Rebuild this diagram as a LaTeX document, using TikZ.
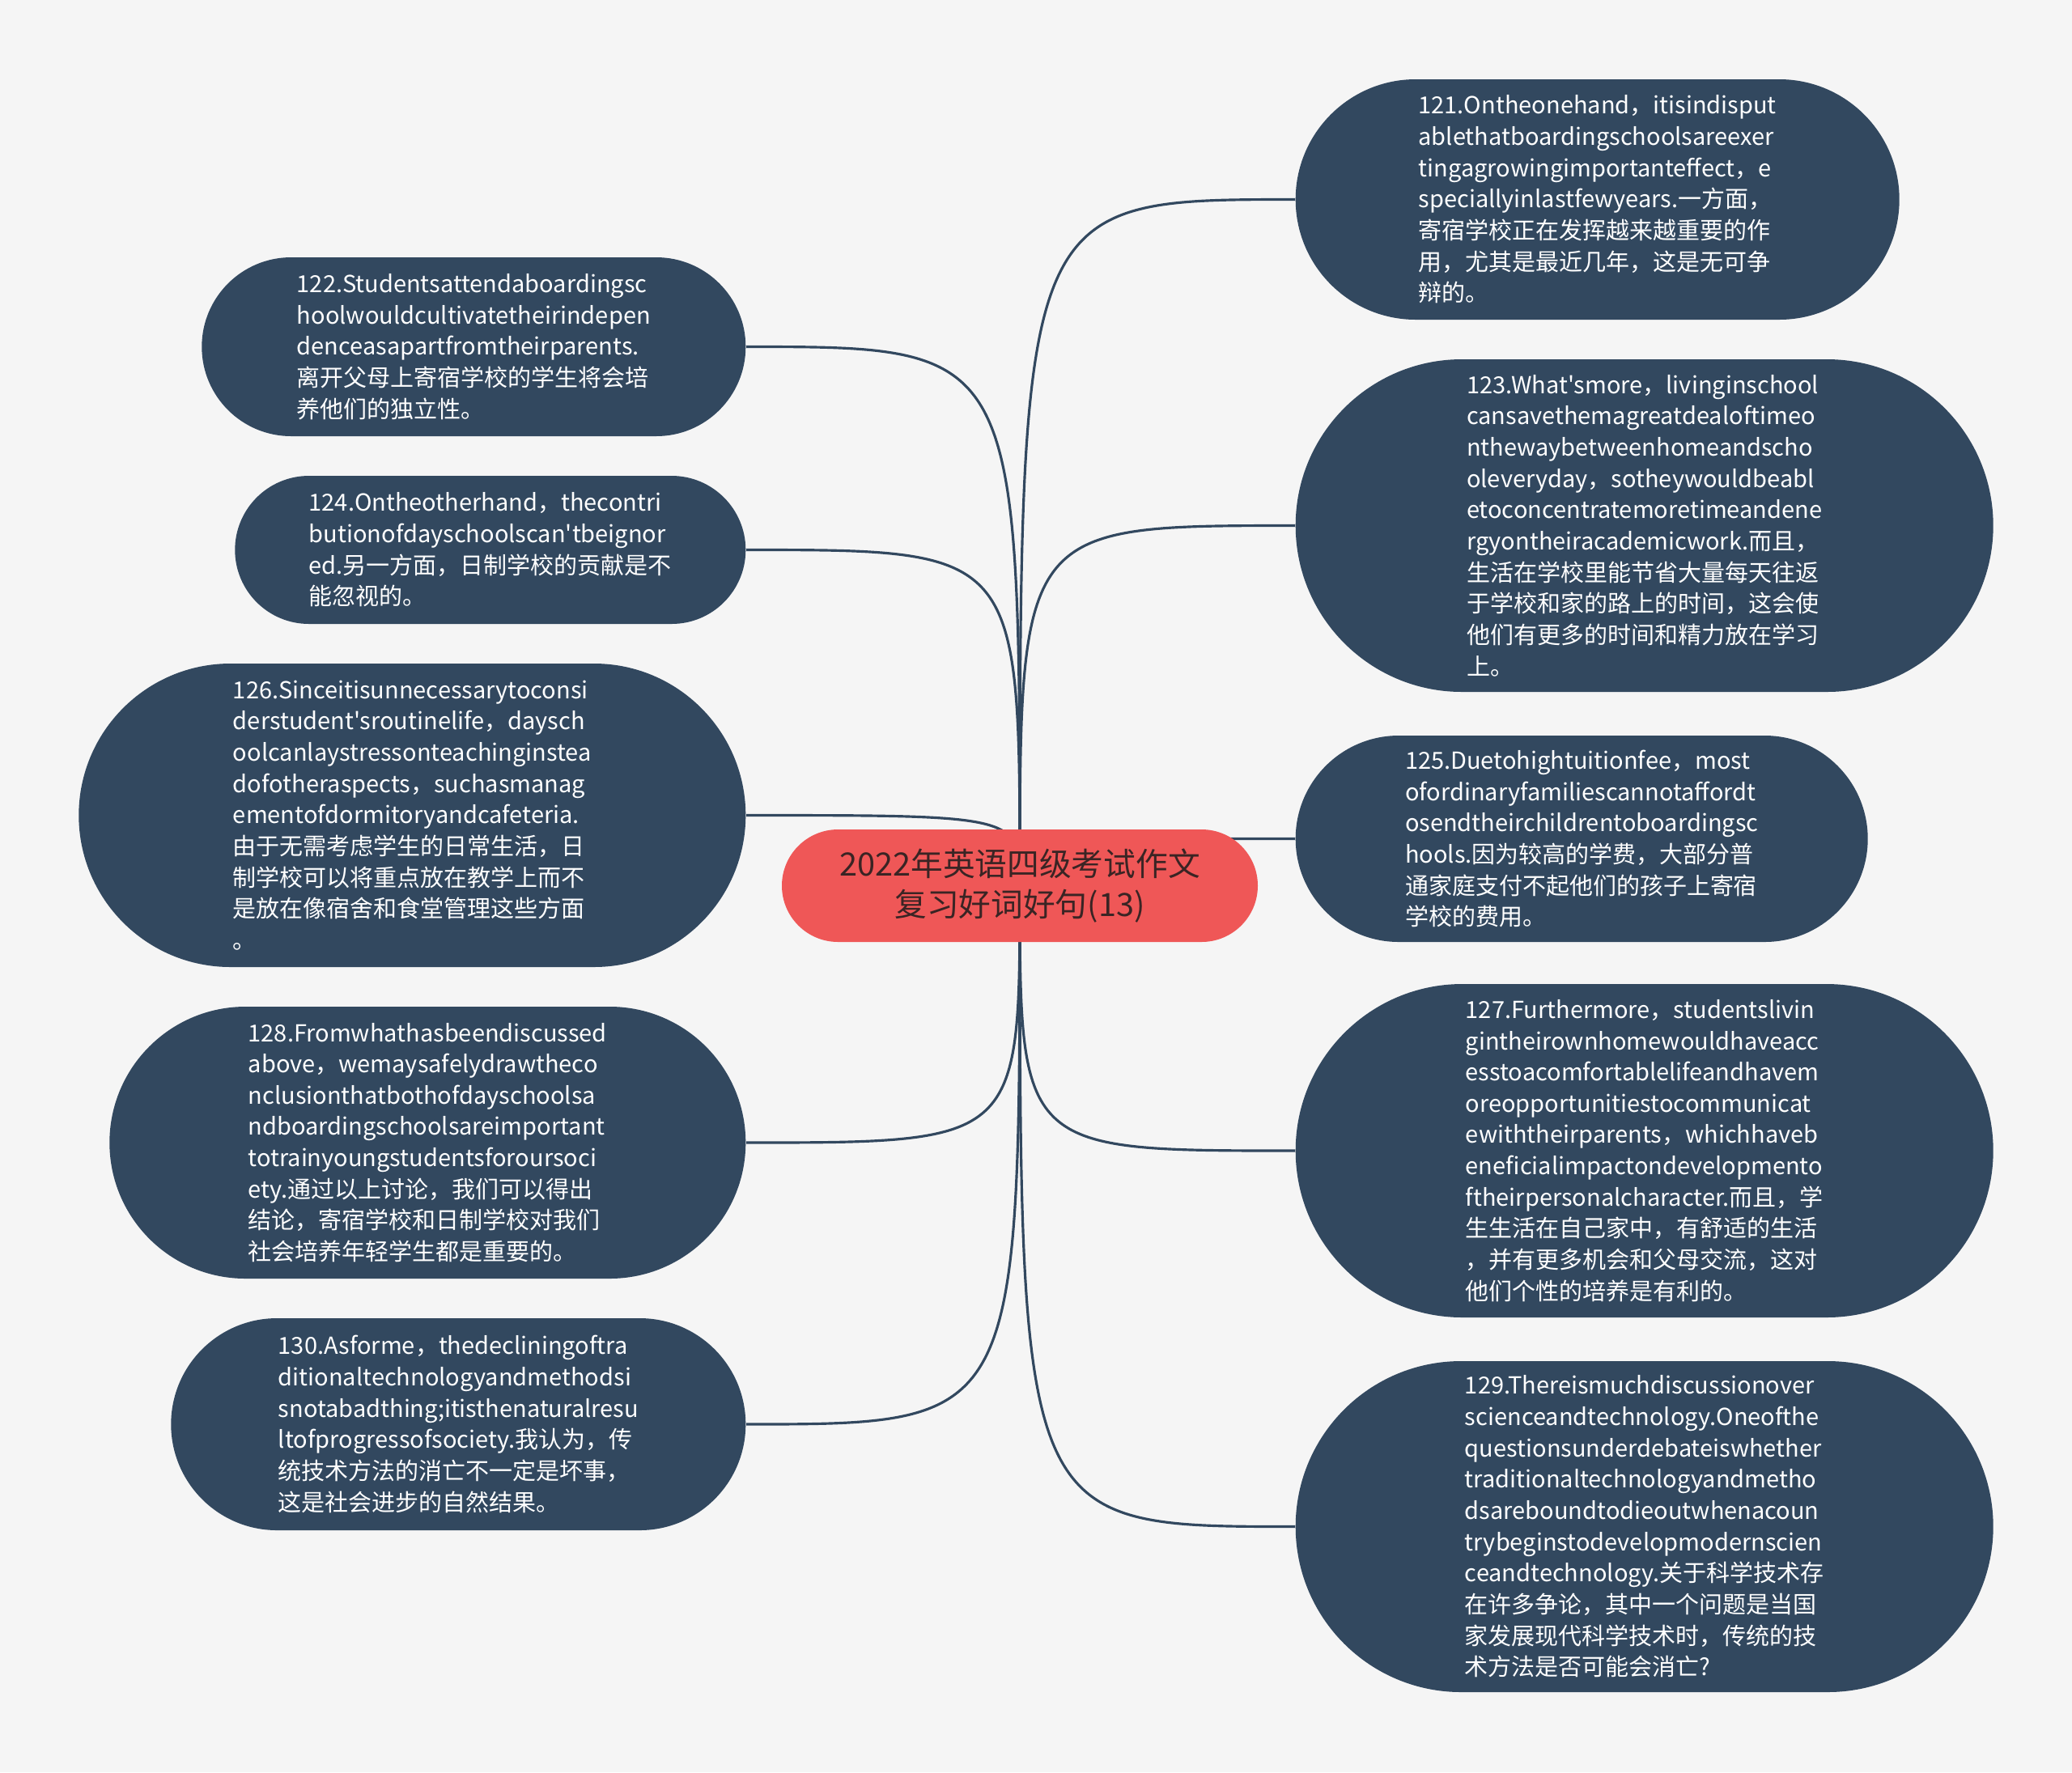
\documentclass[tikz,border=0pt]{standalone}
\usepackage{fontspec}
\newfontfamily\cjkfont{Noto Sans CJK SC}
\usepackage{tikz}
\usetikzlibrary{backgrounds}
\definecolor{paper}{RGB}{245,245,245}
\definecolor{slate}{RGB}{50,72,95}
\definecolor{coral}{RGB}{239,87,87}
\definecolor{rootink}{RGB}{58,36,36}

\begin{document}
\begin{tikzpicture}
\tikzset{pillsize/.style 2 args={minimum width=#1cm,minimum height=#2cm,rounded corners=#2*0.5cm}}
\tikzstyle{leaf}=[fill=slate,text=white,align=left,inner sep=0pt,font=\cjkfont\fontsize{8.25pt}{11pt}\selectfont]
\tikzstyle{topic}=[fill=coral,text=rootink,align=center,inner sep=0pt,font=\cjkfont\fontsize{11.3pt}{14.4pt}\selectfont]
\tikzstyle{link}=[draw=slate,line width=0.9pt]
\useasboundingbox (0,0) rectangle (25.6,-21.9);
% central topic
\node[topic,pillsize={5.88}{1.39}] (root) at (12.60,-10.945) {2022年英语四级考试作文\\复习好词好句(13)};
% right branch
\node[leaf,pillsize={7.46}{2.97},anchor=west] (n121) at (16.00,-2.465) {121.Ontheonehand，itisindisput\\ablethatboardingschoolsareexer\\tingagrowingimportanteffect，e\\speciallyinlastfewyears.一方面，\\寄宿学校正在发挥越来越重要的作\\用，尤其是最近几年，这是无可争\\辩的。};
\node[leaf,pillsize={8.62}{4.11},anchor=west] (n123) at (16.00,-6.495) {123.What'smore，livinginschool\\cansavethemagreatdealoftimeo\\nthewaybetweenhomeandscho\\oleveryday，sotheywouldbeabl\\etoconcentratemoretimeandene\\rgyontheiracademicwork.而且，\\生活在学校里能节省大量每天往返\\于学校和家的路上的时间，这会使\\他们有更多的时间和精力放在学习\\上。};
\node[leaf,pillsize={7.07}{2.55},anchor=west] (n125) at (16.00,-10.365) {125.Duetohightuitionfee，most\\ofordinaryfamiliescannotaffordt\\osendtheirchildrentoboardingsc\\hools.因为较高的学费，大部分普\\通家庭支付不起他们的孩子上寄宿\\学校的费用。};
\node[leaf,pillsize={8.62}{4.12},anchor=west] (n127) at (16.00,-14.22) {127.Furthermore，studentslivin\\gintheirownhomewouldhaveacc\\esstoacomfortablelifeandhavem\\oreopportunitiestocommunicat\\ewiththeirparents，whichhaveb\\eneficialimpactondevelopmento\\ftheirpersonalcharacter.而且，学\\生生活在自己家中，有舒适的生活\\，并有更多机会和父母交流，这对\\他们个性的培养是有利的。};
\node[leaf,pillsize={8.62}{4.09},anchor=west] (n129) at (16.00,-18.865) {129.Thereismuchdiscussionover\\scienceandtechnology.Oneofthe\\questionsunderdebateiswhether\\traditionaltechnologyandmetho\\dsareboundtodieoutwhenacoun\\trybeginstodevelopmodernscien\\ceandtechnology.关于科学技术存\\在许多争论，其中一个问题是当国\\家发展现代科学技术时，传统的技\\术方法是否可能会消亡?};
% left branch
\node[leaf,pillsize={6.72}{2.21},anchor=east] (n122) at (9.22,-4.285) {122.Studentsattendaboardingsc\\hoolwouldcultivatetheirindepen\\denceasapartfromtheirparents.\\离开父母上寄宿学校的学生将会培\\养他们的独立性。};
\node[leaf,pillsize={6.31}{1.83},anchor=east] (n124) at (9.22,-6.795) {124.Ontheotherhand，thecontri\\butionofdayschoolscan'tbeignor\\ed.另一方面，日制学校的贡献是不\\能忽视的。};
\node[leaf,pillsize={8.24}{3.75},anchor=east] (n126) at (9.22,-10.075) {126.Sinceitisunnecessarytoconsi\\derstudent'sroutinelife，daysch\\oolcanlaystressonteachinginstea\\dofotheraspects，suchasmanag\\ementofdormitoryandcafeteria.\\由于无需考虑学生的日常生活，日\\制学校可以将重点放在教学上而不\\是放在像宿舍和食堂管理这些方面\\。};
\node[leaf,pillsize={7.86}{3.36},anchor=east] (n128) at (9.22,-14.12) {128.Fromwhathasbeendiscussed\\above，wemaysafelydrawtheco\\nclusionthatbothofdayschoolsa\\ndboardingschoolsareimportant\\totrainyoungstudentsforoursoci\\ety.通过以上讨论，我们可以得出\\结论，寄宿学校和日制学校对我们\\社会培养年轻学生都是重要的。};
\node[leaf,pillsize={7.10}{2.62},anchor=east] (n130) at (9.22,-17.60) {130.Asforme，thedecliningoftra\\ditionaltechnologyandmethodsi\\snotabadthing;itisthenaturalresu\\ltofprogressofsociety.我认为，传\\统技术方法的消亡不一定是坏事，\\这是社会进步的自然结果。};
% connectors, behind the boxes
\begin{scope}[on background layer]
\fill[paper] (0,0) rectangle (25.6,-21.9);
\draw[link] (root.center) .. controls (root.center |- n121.west) .. (n121.west);
\draw[link] (root.center) .. controls (root.center |- n123.west) .. (n123.west);
\draw[link] (root.center) .. controls (root.center |- n125.west) .. (n125.west);
\draw[link] (root.center) .. controls (root.center |- n127.west) .. (n127.west);
\draw[link] (root.center) .. controls (root.center |- n129.west) .. (n129.west);
\draw[link] (root.center) .. controls (root.center |- n122.east) .. (n122.east);
\draw[link] (root.center) .. controls (root.center |- n124.east) .. (n124.east);
\draw[link] (root.center) .. controls (root.center |- n126.east) .. (n126.east);
\draw[link] (root.center) .. controls (root.center |- n128.east) .. (n128.east);
\draw[link] (root.center) .. controls (root.center |- n130.east) .. (n130.east);
\end{scope}
\end{tikzpicture}
\end{document}
